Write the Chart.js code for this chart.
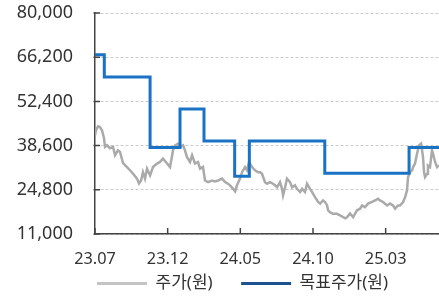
<!DOCTYPE html>
<html><head><meta charset="utf-8">
<script src="https://cdn.jsdelivr.net/npm/chart.js@4.4.1/dist/chart.umd.min.js"></script>
<style>html,body{margin:0;padding:0;background:#fff}#wrap{width:439px;height:298px}</style>
</head><body><div id="wrap"><canvas id="c" width="439" height="298"></canvas></div>
<script>
// x values are months elapsed since 2023-07
const xTickValues = [0, 5, 10, 15, 20];
const xTickLabels = ['23.07', '23.12', '24.05', '24.10', '25.03'];
const yTickValues = [11000, 24800, 38600, 52400, 66200, 80000];
const seriesNames = ['주가(원)', '목표주가(원)'];

const priceMonths = [0,0.07,0.21,0.34,0.48,0.62,0.69,0.83,1.03,1.24,
1.38,1.58,1.72,1.93,2.20,2.41,2.62,2.89,3.03,3.17,
3.30,3.44,3.58,3.79,3.99,4.27,4.47,4.68,4.96,5.16,
5.37,5.51,5.71,5.85,6.06,6.19,6.33,6.54,6.68,6.88,
7.09,7.23,7.43,7.57,7.78,8.05,8.26,8.47,8.74,8.95,
9.15,9.29,9.50,9.64,9.77,9.98,10.12,10.32,10.46,10.60,
10.81,11.01,11.22,11.36,11.49,11.70,11.84,12.04,12.25,12.39,
12.53,12.73,12.87,12.94,13.08,13.21,13.42,13.56,13.76,13.90,
14.11,14.25,14.45,14.59,14.80,14.94,15.14,15.35,15.49,15.69,
15.83,15.97,16.04,16.17,16.38,16.65,16.86,17.07,17.21,17.34,
17.55,17.76,18.03,18.24,18.38,18.58,18.79,19.06,19.27,19.48,
19.61,19.82,20.10,20.30,20.51,20.65,20.85,20.99,21.20,21.34,
21.47,21.54,21.68,21.82,21.89,22.02,22.16,22.30,22.44,22.57,
22.64,22.71,22.85,22.91,23.05,23.19,23.26,23.40,23.54,23.67];

const priceValues = [41800,43400,44600,44400,43400,40900,38200,38700,37800,38200,
35600,37100,36600,33100,31900,30900,29800,28300,26800,27700,
30300,28300,31400,29300,31900,33000,33500,34500,33000,31900,
37100,38700,39200,38200,38700,37100,35000,33500,35600,33000,
33500,31400,31900,27700,27200,27700,27400,27700,28300,27200,
26700,26200,25100,24300,26200,28300,30300,31900,30900,33500,
31900,30900,30300,30300,29800,27200,26700,27200,26700,26200,
25600,27200,25100,23100,25600,28300,27200,25600,26200,25100,
24100,25100,24100,26700,25100,24100,22500,21000,20500,21500,
21000,19900,18400,17800,17300,17300,16800,16300,15900,16200,
17400,16300,18400,18900,19900,19400,20500,21000,21500,22000,
21500,21000,19900,20500,19900,18900,19900,19900,21000,22500,
24600,28800,30300,30900,31900,33000,36100,38700,39200,35000,
30300,28800,29800,32400,31900,37100,36100,33500,31900,32400];

const targetMonths = [0, 0.64, 3.79, 5.85, 7.50, 9.61, 10.62, 15.81, 21.61, 23.67];
const targetValues = [67000, 60000, 38000, 50000, 40000, 29000, 40000, 30000, 38000, 38000];

const X_MAX = 23.67;
const FONT = '"Noto Sans", "Noto Sans CJK KR", sans-serif';
const TEXT = '#333333';
const AXIS = '#444444';
const lineColors = ['#aaaaaa', '#1a72c4'];
const legendColors = ['#c4c4c4', '#1d5291'];

const innerTicks = {
  id: 'innerTicks',
  afterDraw(chart) {
    const {ctx, chartArea: a, scales: {x, y}} = chart;
    ctx.save();
    ctx.strokeStyle = AXIS;
    ctx.lineWidth = 1.5;
    ctx.beginPath();
    y.ticks.forEach(t => { const py = y.getPixelForValue(t.value); ctx.moveTo(a.left - 1.5, py); ctx.lineTo(a.left + 5, py); });
    x.ticks.forEach(t => { const px = x.getPixelForValue(t.value); ctx.moveTo(px, a.bottom); ctx.lineTo(px, a.bottom - 6); });
    ctx.stroke();
    ctx.restore();
  }
};
const legendPlace = {
  id: 'legendPlace',
  afterLayout(chart) {
    const lg = chart.legend; const p = lg.options.labels.padding;
    lg.left = 97 - p;
    lg.top = 275 - p;
  }
};

new Chart(document.getElementById('c'), {
  type: 'line',
  data: {
    datasets: [
      { label: seriesNames[0], data: priceMonths.map((m, i) => ({x: m, y: priceValues[i]})),
        borderColor: lineColors[0], borderWidth: 2.5, pointRadius: 0, tension: 0, order: 2 },
      { label: seriesNames[1], data: targetMonths.map((m, i) => ({x: m, y: targetValues[i]})),
        borderColor: lineColors[1], borderWidth: 3, pointRadius: 0, stepped: 'before', order: 1 }
    ]
  },
  options: {
    responsive: false, animation: false, devicePixelRatio: 1,
    layout: { padding: { left: 17, top: 13, right: 0, bottom: 0 } },
    plugins: {
      tooltip: { enabled: false },
      legend: {
        position: 'bottom', align: 'start', maxHeight: 28,
        labels: {
          boxWidth: 50, boxHeight: 3, padding: 28.5, color: TEXT,
          font: { size: 17, family: FONT },
          generateLabels: chart => chart.data.datasets.map((d, i) => ({
            text: d.label, fillStyle: legendColors[i], strokeStyle: legendColors[i],
            lineWidth: 0, datasetIndex: i, hidden: false, fontColor: TEXT
          }))
        }
      }
    },
    scales: {
      x: {
        type: 'linear', min: 0, max: X_MAX,
        afterBuildTicks: s => { s.ticks = xTickValues.map(v => ({value: v})); },
        afterFit: s => { s.height = 36; s.paddingLeft = 0; s.paddingRight = 0; },
        ticks: { callback: v => { const i = xTickValues.indexOf(v); return i >= 0 ? xTickLabels[i] : ''; },
                 padding: 16, color: TEXT, font: { size: 16.3, family: FONT }, maxRotation: 0, autoSkip: false },
        grid: { display: false, drawTicks: false },
        border: { display: true, color: AXIS, width: 1.5 }
      },
      y: {
        min: 11000, max: 80000,
        afterBuildTicks: s => { s.ticks = yTickValues.map(v => ({value: v})); },
        afterFit: s => { s.width = 78; s.paddingTop = 8; s.paddingBottom = 8; },
        ticks: { callback: v => v.toLocaleString('en-US'), padding: 22, color: TEXT, font: { size: 18, family: FONT } },
        grid: { color: '#cccccc', lineWidth: 1, drawTicks: false },
        border: { display: true, color: AXIS, width: 1.5, dash: [3, 2] }
      }
    }
  },
  plugins: [innerTicks, legendPlace]
});
</script></body></html>
